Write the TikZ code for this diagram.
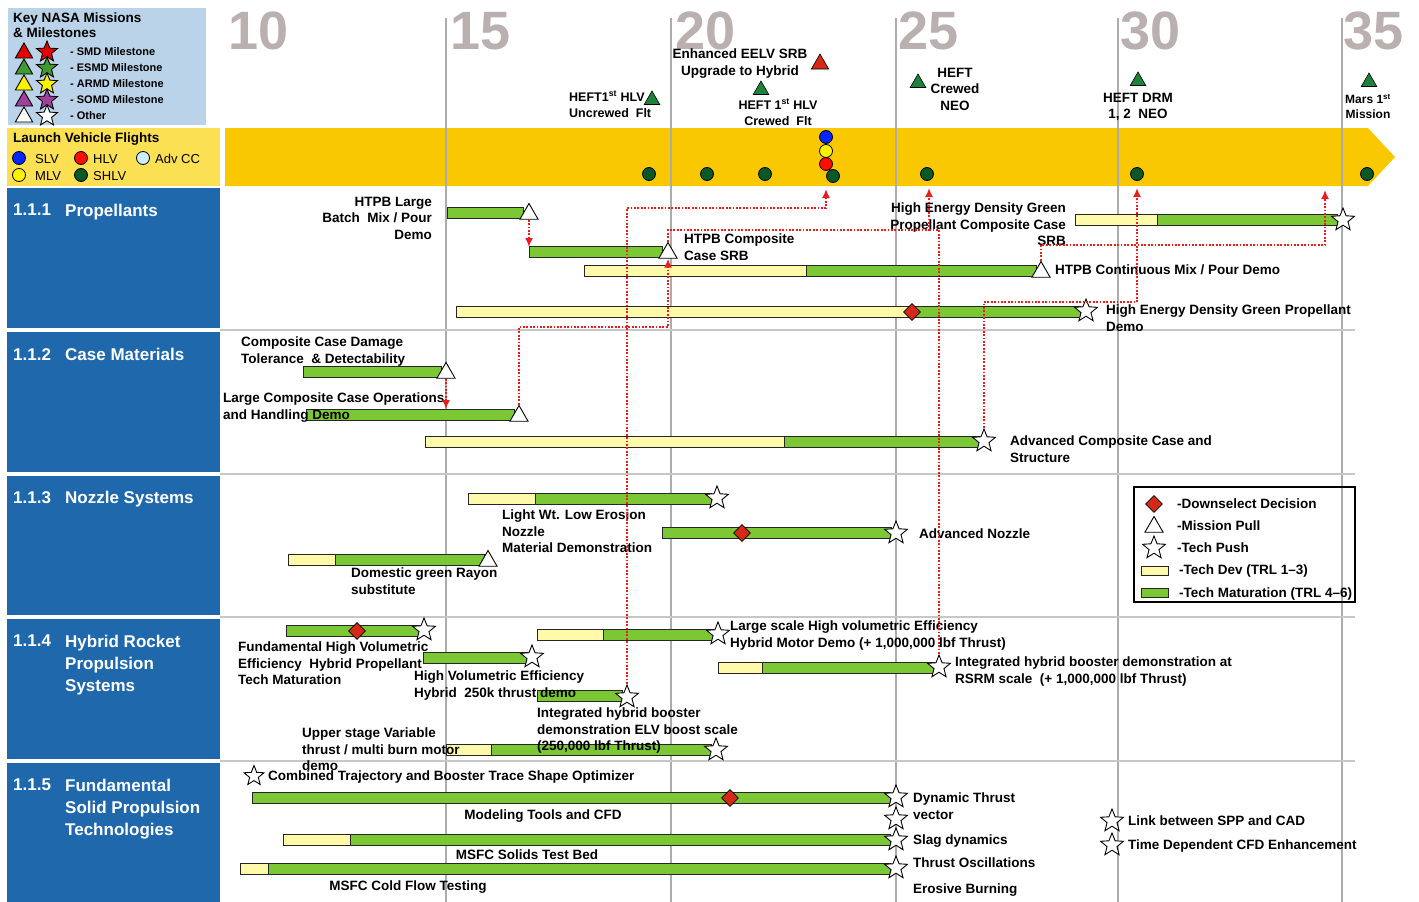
\documentclass[tikz,border=0pt]{standalone}
\usepackage{fontspec}
\setmainfont{Liberation Sans}
\usepackage{tikz}
\usetikzlibrary{shapes.geometric,arrows.meta}
\definecolor{panelblue}{RGB}{32,104,172}
\definecolor{keyblue}{RGB}{186,211,232}
\definecolor{keyyellow}{RGB}{252,224,84}
\definecolor{bandyellow}{RGB}{250,200,0}
\definecolor{yeargray}{RGB}{186,176,176}
\definecolor{gridgray}{RGB}{172,172,172}
\definecolor{devyellow}{RGB}{255,249,170}
\definecolor{matgreen}{RGB}{124,200,52}
\definecolor{dsred}{RGB}{214,40,22}
\definecolor{linkred}{RGB}{232,30,30}
\definecolor{esmdgreen}{RGB}{30,130,60}
\definecolor{shlvgreen}{RGB}{10,88,36}
\tikzstyle{task text}=[anchor=north west, align=left, inner sep=0pt, font=\bfseries\fontsize{13.5}{16.5}\selectfont]
\tikzstyle{task text right}=[style=task text, anchor=north east, align=right]
\tikzstyle{task text mid}=[style=task text, anchor=north, align=center]
\tikzstyle{year}=[anchor=west, inner sep=0pt, text=yeargray, font=\bfseries\fontsize{54}{54}\selectfont]
\tikzstyle{heading}=[anchor=north west, align=left, inner sep=0pt, text=white, font=\bfseries\fontsize{17}{22}\selectfont]
\tikzstyle{key text}=[anchor=north west, inner sep=0pt, font=\bfseries\fontsize{11}{13}\selectfont]
\tikzstyle{flight text}=[anchor=west, inner sep=0pt, font=\fontsize{13}{15}\selectfont]
\tikzstyle{mission pull}=[draw=black, fill=white, line width=0.9pt, regular polygon, regular polygon sides=3, minimum size=21pt, inner sep=0pt]
\tikzstyle{tech push}=[draw=black, fill=white, line width=0.9pt, star, star points=5, star point ratio=2.3, minimum size=24pt, inner sep=0pt]
\tikzstyle{downselect}=[draw=black, fill=dsred, line width=0.6pt, diamond, minimum size=17pt, inner sep=0pt]
\tikzstyle{mission}=[draw=black, fill=esmdgreen, line width=0.6pt, regular polygon, regular polygon sides=3, minimum size=18pt, inner sep=0pt]
\tikzstyle{flight}=[draw=black, fill=shlvgreen, line width=0.8pt, circle, minimum size=13pt, inner sep=0pt]
\tikzstyle{dev bar}=[draw=black!85, fill=devyellow, line width=0.8pt]
\tikzstyle{mat bar}=[draw=black!85, fill=matgreen, line width=0.8pt]
\tikzstyle{link edge}=[draw=linkred, line width=1.6pt, dash pattern=on 1.8pt off 1.6pt]
\tikzstyle{link arrow}=[style=link edge, -{Latex[length=9pt,width=8pt]}]
\pgfdeclarelayer{gridlayer}
\pgfdeclarelayer{nodelayer}
\pgfdeclarelayer{edgelayer}
\pgfsetlayers{gridlayer,main,nodelayer,edgelayer}

\begin{document}
\begin{tikzpicture}[x=1pt, y=-1pt]
	\useasboundingbox (0,0) rectangle (1419,902);
	\begin{pgfonlayer}{gridlayer}
		% left panel and launch band
		\fill [keyblue] (8,8) rectangle (206,125);
		\fill [keyyellow] (7,128) rectangle (220,186);
		\fill [panelblue] (7,188) rectangle (220,328);
		\fill [panelblue] (7,332) rectangle (220,472);
		\fill [panelblue] (7,476) rectangle (220,615);
		\fill [panelblue] (7,619) rectangle (220,759);
		\fill [panelblue] (7,763) rectangle (220,902);
		\fill [bandyellow] (225,128) -- (1368,128) -- (1395,157) -- (1368,186) -- (225,186) -- cycle;
		\foreach \x in {446,671,896,1118,1342}
			\draw [gridgray, line width=1.2pt] (\x,18) -- (\x,902);
		\foreach \y in {330,474,617,761}
			\draw [black!22, line width=1.5pt] (220,\y) -- (1355,\y);
	\end{pgfonlayer}

	% bars
	\draw [style=mat bar] (447,207.5) rectangle (523,218.5);
	\draw [style=mat bar] (529,246.5) rectangle (662,257.5);
	\draw [style=dev bar] (584,265.5) rectangle (806,276.5);
	\draw [style=mat bar] (806,265.5) rectangle (1036,276.5);
	\draw [style=dev bar] (456,306.5) rectangle (910,317.5);
	\draw [style=mat bar] (910,306.5) rectangle (1080,317.5);
	\draw [style=dev bar] (1075,214.5) rectangle (1157,225.5);
	\draw [style=mat bar] (1157,214.5) rectangle (1337,225.5);
	\draw [style=mat bar] (303,366.5) rectangle (441,377.5);
	\draw [style=mat bar] (306,409.5) rectangle (514,420.5);
	\draw [style=dev bar] (425,436.5) rectangle (784,447.5);
	\draw [style=mat bar] (784,436.5) rectangle (979,447.5);
	\draw [style=dev bar] (468,493.5) rectangle (535,504.5);
	\draw [style=mat bar] (535,493.5) rectangle (711,504.5);
	\draw [style=mat bar] (662,527.5) rectangle (891,538.5);
	\draw [style=dev bar] (288,554.5) rectangle (335,565.5);
	\draw [style=mat bar] (335,554.5) rectangle (484,565.5);
	\draw [style=mat bar] (286,625.5) rectangle (419,636.5);
	\draw [style=dev bar] (537,629.5) rectangle (603,640.5);
	\draw [style=mat bar] (603,629.5) rectangle (713,640.5);
	\draw [style=mat bar] (423,652.5) rectangle (527,663.5);
	\draw [style=dev bar] (718,662.5) rectangle (762,673.5);
	\draw [style=mat bar] (762,662.5) rectangle (934,673.5);
	\draw [style=mat bar] (537,690.5) rectangle (622,701.5);
	\draw [style=dev bar] (446,744.5) rectangle (491,755.5);
	\draw [style=mat bar] (491,744.5) rectangle (711,755.5);
	\draw [style=mat bar] (252,792.5) rectangle (890,803.5);
	\draw [style=dev bar] (283,834.5) rectangle (350,845.5);
	\draw [style=mat bar] (350,834.5) rectangle (890,845.5);
	\draw [style=dev bar] (240,863.5) rectangle (268,874.5);
	\draw [style=mat bar] (268,863.5) rectangle (890,874.5);
	% legend box
	\draw [black, line width=1.3pt] (1134,487) rectangle (1355,602);
	\draw [style=dev bar] (1141,566) rectangle (1168,575);
	\draw [style=mat bar] (1141,588) rectangle (1168,597);

	\begin{pgfonlayer}{nodelayer}
		\node [style=year] (0) at (228,31) {10};
		\node [style=year] (1) at (450,31) {15};
		\node [style=year] (2) at (675,31) {20};
		\node [style=year] (3) at (898,31) {25};
		\node [style=year] (4) at (1120,31) {30};
		\node [style=year] (5) at (1343,31) {35};

		% key
		\node [style=task text, font=\bfseries\fontsize{13.5}{15}\selectfont] (6) at (13,13) {Key NASA Missions\\\& Milestones};
		\node [style=mission pull, minimum size=20pt, fill=red!90!black] (7) at (24,53) {};
		\node [style=mission pull, minimum size=20pt, fill=esmdgreen!80!lime] (8) at (24,69) {};
		\node [style=mission pull, minimum size=20pt, fill=yellow] (9) at (24,85) {};
		\node [style=mission pull, minimum size=20pt, fill=violet!75] (10) at (24,101) {};
		\node [style=mission pull, minimum size=20pt] (11) at (24,117) {};
		\node [style=tech push, minimum size=22pt, fill=red!90!black] (12) at (47,52) {};
		\node [style=tech push, minimum size=22pt, fill=esmdgreen!80!lime] (13) at (47,68) {};
		\node [style=tech push, minimum size=22pt, fill=yellow] (14) at (47,84) {};
		\node [style=tech push, minimum size=22pt, fill=violet!75] (15) at (47,100) {};
		\node [style=tech push, minimum size=22pt] (16) at (47,116) {};
		\node [style=key text] (17) at (70,47) {- SMD Milestone};
		\node [style=key text] (18) at (70,63) {- ESMD Milestone};
		\node [style=key text] (19) at (70,79) {- ARMD Milestone};
		\node [style=key text] (20) at (70,95) {- SOMD Milestone};
		\node [style=key text] (21) at (70,111) {- Other};

		% launch vehicle key
		\node [style=task text] (22) at (13,133) {Launch Vehicle Flights};
		\node [style=flight, fill=blue!85!cyan] (23) at (19,158) {};
		\node [style=flight, fill=red!90!orange] (24) at (81,158) {};
		\node [style=flight, fill=cyan!20] (25) at (143,158) {};
		\node [style=flight, fill=yellow] (26) at (19,175) {};
		\node [style=flight] (27) at (81,175) {};
		\node [style=flight text] (28) at (35,159) {SLV};
		\node [style=flight text] (29) at (93,159) {HLV};
		\node [style=flight text] (30) at (155,159) {Adv CC};
		\node [style=flight text] (31) at (35,176) {MLV};
		\node [style=flight text] (32) at (93,176) {SHLV};

		% area headings
		\node [style=heading] (33) at (13,204) {1.1.1};
		\node [style=heading] (34) at (65,204) {Propellants};
		\node [style=heading] (35) at (13,348) {1.1.2};
		\node [style=heading] (36) at (65,348) {Case Materials};
		\node [style=heading] (37) at (13,491) {1.1.3};
		\node [style=heading] (38) at (65,491) {Nozzle Systems};
		\node [style=heading] (39) at (13,635) {1.1.4};
		\node [style=heading] (40) at (65,635) {Hybrid Rocket\\Propulsion\\Systems};
		\node [style=heading] (41) at (13,779) {1.1.5};
		\node [style=heading] (42) at (65,779) {Fundamental\\Solid Propulsion\\Technologies};

		% mission milestones
		\node [style=mission] (43) at (652,100) {};
		\node [style=mission, fill=dsred, minimum size=20pt] (44) at (820,64) {};
		\node [style=mission] (45) at (761,90) {};
		\node [style=mission] (46) at (918,83) {};
		\node [style=mission] (47) at (1138,81) {};
		\node [style=mission] (48) at (1369,82) {};
		\node [style=task text, font=\bfseries\fontsize{12.5}{16}\selectfont] (49) at (569,91) {HEFT1\textsuperscript{st} HLV\\Uncrewed\ \ Flt};
		\node [style=task text mid] (50) at (740,49) {Enhanced EELV SRB\\Upgrade to Hybrid};
		\node [style=task text mid, font=\bfseries\fontsize{12.5}{16}\selectfont] (51) at (778,99) {HEFT 1\textsuperscript{st} HLV\\Crewed\ \ Flt};
		\node [style=task text mid] (52) at (955,68) {HEFT\\Crewed\\NEO};
		\node [style=task text mid] (53) at (1138,93) {HEFT DRM\\1, 2\ \ NEO};
		\node [style=task text mid, font=\bfseries\fontsize{12}{15}\selectfont] (54) at (1368,94) {Mars 1\textsuperscript{st}\\Mission};

		% launch vehicle flights
		\node [style=flight] (55) at (649,174) {};
		\node [style=flight] (56) at (707,174) {};
		\node [style=flight] (57) at (765,174) {};
		\node [style=flight, fill=blue!85!cyan] (58) at (826,137) {};
		\node [style=flight, fill=yellow] (59) at (826,151) {};
		\node [style=flight, fill=red!90!orange] (60) at (826,164) {};
		\node [style=flight] (61) at (833,176) {};
		\node [style=flight] (62) at (927,174) {};
		\node [style=flight] (63) at (1137,174) {};
		\node [style=flight] (64) at (1367,174) {};

		% 1.1.1 propellants
		\node [style=mission pull] (66) at (529,214) {};
		\node [style=mission pull] (67) at (668,253) {};
		\node [style=mission pull] (68) at (1041,272) {};
		\node [style=downselect] (69) at (912,312) {};
		\node [style=tech push] (70) at (1086,311) {};
		\node [style=tech push] (71) at (1343,220) {};
		\node [style=task text right] (72) at (432,197) {HTPB Large\\Batch\ \ Mix / Pour\\Demo};
		\node [style=task text] (73) at (684,234) {HTPB Composite\\Case SRB};
		\node [style=task text] (74) at (1055,265) {HTPB Continuous Mix / Pour Demo};
		\node [style=task text] (75) at (1106,305) {High Energy Density Green Propellant\\Demo};
		\node [style=task text right] (76) at (1066,203) {High Energy Density Green\\Propellant Composite Case\\SRB};

		% 1.1.2 case materials
		\node [style=mission pull] (77) at (446,373) {};
		\node [style=mission pull] (78) at (519,416) {};
		\node [style=tech push] (79) at (984,441) {};
		\node [style=task text] (80) at (241,337) {Composite Case Damage\\Tolerance\ \ \& Detectability};
		\node [style=task text] (81) at (223,393) {Large Composite Case Operations\\and Handling Demo};
		\node [style=task text] (82) at (1010,436) {Advanced Composite Case and\\Structure};

		% 1.1.3 nozzle systems
		\node [style=tech push] (83) at (717,498) {};
		\node [style=downselect] (84) at (742,533) {};
		\node [style=tech push] (85) at (896,533) {};
		\node [style=mission pull] (86) at (488,561) {};
		\node [style=task text] (87) at (502,510) {Light Wt. Low Erosion\\Nozzle\\Material Demonstration};
		\node [style=task text] (88) at (919,529) {Advanced Nozzle};
		\node [style=task text] (89) at (351,568) {Domestic green Rayon\\substitute};

		% legend
		\node [style=downselect] (90) at (1154,504) {};
		\node [style=mission pull] (91) at (1154,527) {};
		\node [style=tech push] (92) at (1154,548) {};
		\node [style=task text] (93) at (1177,499) {-Downselect Decision};
		\node [style=task text] (94) at (1177,521) {-Mission Pull};
		\node [style=task text] (95) at (1177,543) {-Tech Push};
		\node [style=task text] (96) at (1179,565) {-Tech Dev (TRL 1--3)};
		\node [style=task text] (97) at (1179,588) {-Tech Maturation (TRL 4--6)};

		% 1.1.4 hybrid rocket propulsion systems
		\node [style=downselect] (98) at (357,631) {};
		\node [style=tech push] (99) at (424,630) {};
		\node [style=tech push] (100) at (718,634) {};
		\node [style=tech push] (101) at (532,657) {};
		\node [style=tech push] (102) at (939,667) {};
		\node [style=tech push] (103) at (627,697) {};
		\node [style=tech push] (104) at (716,750) {};
		\node [style=task text] (105) at (238,642) {Fundamental High Volumetric\\Efficiency\ \ Hybrid Propellant\\Tech Maturation};
		\node [style=task text] (106) at (730,621) {Large scale High volumetric Efficiency\\Hybrid Motor Demo (+ 1,000,000 lbf Thrust)};
		\node [style=task text] (107) at (414,671) {High Volumetric Efficiency\\Hybrid\ \ 250k thrust demo};
		\node [style=task text] (108) at (955,657) {Integrated hybrid booster demonstration at\\RSRM scale\ \ (+ 1,000,000 lbf Thrust)};
		\node [style=task text] (109) at (537,708) {Integrated hybrid booster\\demonstration ELV boost scale\\(250,000 lbf Thrust)};
		\node [style=task text] (110) at (302,728) {Upper stage Variable\\thrust / multi burn motor\\demo};

		% 1.1.5 fundamental solid propulsion technologies
		\node [style=tech push, minimum size=21pt] (111) at (254,776) {};
		\node [style=downselect] (112) at (730,798) {};
		\node [style=tech push] (113) at (896,797) {};
		\node [style=tech push] (114) at (896,819) {};
		\node [style=tech push] (115) at (896,840) {};
		\node [style=tech push] (116) at (896,868) {};
		\node [style=tech push] (117) at (1112,821) {};
		\node [style=tech push] (118) at (1112,845) {};
		\node [style=task text] (119) at (268,771) {Combined Trajectory and Booster Trace Shape Optimizer};
		\node [style=task text] (120) at (913,793) {Dynamic Thrust\\vector};
		\node [style=task text mid] (121) at (543,810) {Modeling Tools and CFD};
		\node [style=task text] (122) at (913,835) {Slag dynamics};
		\node [style=task text mid] (123) at (527,850) {MSFC Solids Test Bed};
		\node [style=task text] (124) at (913,858) {Thrust Oscillations};
		\node [style=task text] (125) at (913,884) {Erosive Burning};
		\node [style=task text mid] (126) at (408,881) {MSFC Cold Flow Testing};
		\node [style=task text] (127) at (1128,816) {Link between SPP and CAD};
		\node [style=task text] (128) at (1128,840) {Time Dependent CFD Enhancement};

		\coordinate (k1) at (627,208);
		\coordinate (e1) at (826,189);
		\coordinate (k2) at (668,230);
		\coordinate (e2) at (929,188);
		\coordinate (k3) at (519,327);
		\coordinate (k4) at (1041,245);
		\coordinate (e4) at (1325,190);
		\coordinate (k5) at (984,302);
		\coordinate (e5) at (1137,188);
		\coordinate (k6) at (939,230);
		\coordinate (e6) at (529,247);
		\coordinate (e7) at (446,409);
	\end{pgfonlayer}

	\begin{pgfonlayer}{edgelayer}
		\draw [style=link arrow] (103) -- (k1) -| (e1);
		\draw [style=link arrow] (67) -- (k2) -| (e2);
		\draw [style=link edge] (102) -- (k6) -- (e2 |- k6);
		\draw [style=link arrow] (78) -- (k3) -| (67);
		\draw [style=link arrow] (68) -- (k4) -| (e4);
		\draw [style=link arrow] (79) -- (k5) -| (e5);
		\draw [style=link arrow] (66) -- (e6);
		\draw [style=link arrow] (77) -- (e7);
	\end{pgfonlayer}
\end{tikzpicture}
\end{document}
